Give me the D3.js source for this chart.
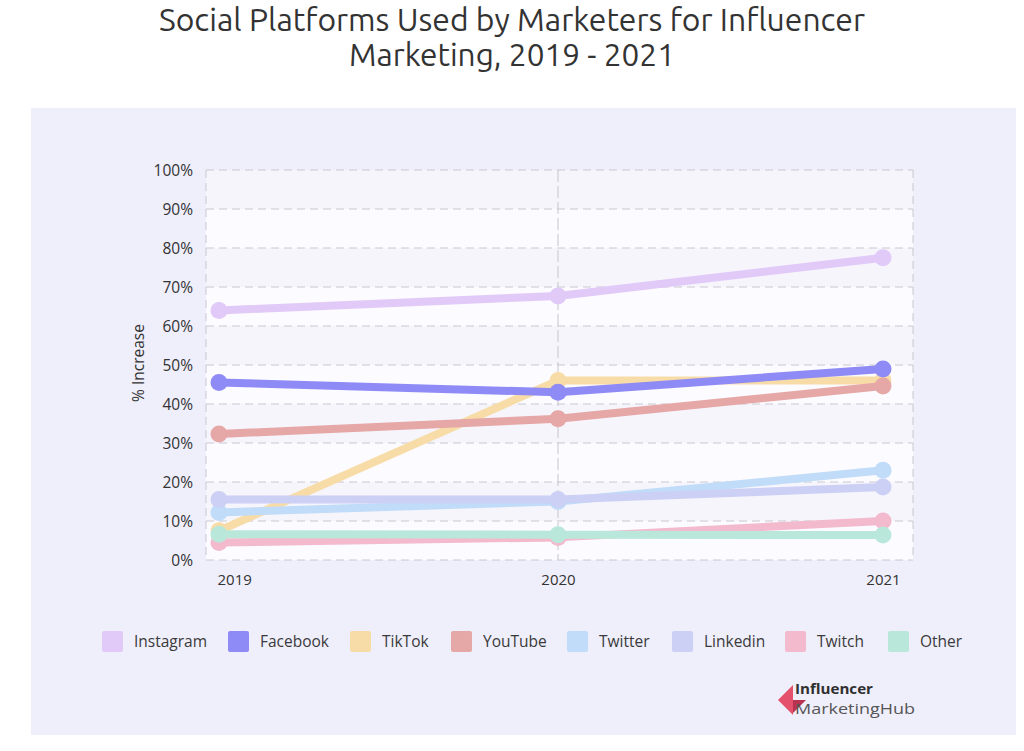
<!DOCTYPE html>
<html><head><meta charset="utf-8">
<script src="https://cdn.jsdelivr.net/npm/d3@7"></script>
<style>html,body{margin:0;padding:0;background:#fff;}svg{display:block;}</style>
</head><body>
<svg id="chart" width="1024" height="751"></svg>
<script>
const years = [2019, 2020, 2021];
const seriesNames = ["Instagram","Facebook","TikTok","YouTube","Twitter","Linkedin","Twitch","Other"];
const instagram = [64, 67.7, 77.5];
const facebook  = [45.5, 43, 49];
const tiktok    = [7.5, 46, 46];
const youtube   = [32.3, 36.2, 44.6];
const twitter   = [12.2, 15, 23];
const linkedin  = [15.5, 15.5, 18.7];
const twitch    = [4.5, 5.8, 10];
const other     = [6.6, 6.5, 6.4];
const colors = ["#e1c9f8","#8e8bf6","#f8dca7","#e6a7a7","#c0dcf8","#ccd0f5","#f3b9cc","#b9e8da"];
const yTicks = [0,10,20,30,40,50,60,70,80,90,100];
const tickLabels = yTicks.map(v => v + "%");
const titleLines = ["Social Platforms Used by Marketers for Influencer","Marketing, 2019 - 2021"];

const values = [instagram, facebook, tiktok, youtube, twitter, linkedin, twitch, other];
const series = seriesNames.map((n,i) => ({name:n, color:colors[i], vals:values[i]}));
const drawOrder = ["Instagram","TikTok","Facebook","YouTube","Twitter","Linkedin","Twitch","Other"];

const svg = d3.select("#chart");
const font = "'Open Sans', 'Noto Sans', sans-serif";

// panel
svg.append("rect").attr("x",31).attr("y",108).attr("width",985).attr("height",627).attr("fill","#efeefb");

// title
svg.selectAll("text.title").data(titleLines).enter().append("text")
  .attr("x",512).attr("text-anchor","middle")
  .attr("y",(d,i)=> i===0 ? 31 : 66)
  .attr("font-family","Ubuntu, 'Open Sans', sans-serif").attr("font-size",31)
  .attr("fill","#333")
  .attr("textLength",(d,i)=> i===0 ? 706 : 326).attr("lengthAdjust","spacingAndGlyphs")
  .text(d=>d);

const plotL = 206, plotR = 913, plotT = 170, plotB = 560;
const x = d3.scaleLinear().domain(years).range([219, 558, 883]);
const y = d3.scaleLinear().domain([0,100]).range([plotB, plotT]);

// bands
const bands = d3.range(0,100,10);
svg.selectAll("rect.band").data(bands).enter().append("rect")
  .attr("x",plotL).attr("width",plotR-plotL)
  .attr("y",d=>y(d+10)).attr("height",d=>y(d)-y(d+10))
  .attr("fill",(d,i)=> (i%2===0) ? "#fcfbff" : "#f6f5fc");

// horizontal grid
svg.selectAll("line.hgrid").data(yTicks).enter().append("line")
  .attr("x1",plotL).attr("x2",plotR).attr("y1",d=>y(d)).attr("y2",d=>y(d))
  .attr("stroke","#c9c8cf").attr("stroke-width",1).attr("stroke-dasharray","8,5");
// vertical borders + 2020
[plotL, plotR].forEach(xx => svg.append("line").attr("x1",xx).attr("x2",xx).attr("y1",plotT).attr("y2",plotB)
  .attr("stroke","#c9c8cf").attr("stroke-dasharray","8,5"));
svg.append("line").attr("x1",x(2020)).attr("x2",x(2020)).attr("y1",plotT).attr("y2",plotB)
  .attr("stroke","#c6c5cc").attr("stroke-dasharray","12,4");

// y axis labels
const yAxis = d3.axisLeft(y).tickValues(yTicks).tickFormat((d,i)=>tickLabels[i]).tickSize(0).tickPadding(0);
const ya = svg.append("g").attr("transform",`translate(193,0)`).call(yAxis);
ya.select(".domain").remove();
ya.selectAll("text").attr("font-family",font).attr("font-size",15.5).attr("fill","#333").attr("dy","0.35em");

// x axis labels
const xAxis = d3.axisBottom(x).tickValues(years).tickFormat(d3.format("d")).tickSize(0).tickPadding(0);
const xa = svg.append("g").attr("transform",`translate(0,574)`).call(xAxis);
xa.select(".domain").remove();
xa.selectAll("text").attr("font-family",font).attr("font-size",15).attr("fill","#333").attr("dy","0.71em")
  .attr("text-anchor",d=> d===2019 ? "start" : "middle")
  .attr("dx",d=> d===2019 ? -2 : 0);

// y title
svg.append("text").attr("transform","translate(144,363) rotate(-90)").attr("text-anchor","middle")
  .attr("font-family",font).attr("font-size",15.5).attr("fill","#333").text("% Increase");

// lines
const line = d3.line().x((d,i)=>x(years[i])).y(d=>y(d));
const ordered = drawOrder.map(n => series.find(s=>s.name===n));
const g = svg.append("g");
ordered.forEach(s => {
  g.append("path").datum(s.vals).attr("d",line).attr("fill","none")
    .attr("stroke",s.color).attr("stroke-width",8).attr("stroke-linejoin","round");
  g.selectAll(null).data(s.vals).enter().append("circle")
    .attr("cx",(d,i)=>x(years[i])).attr("cy",d=>y(d)).attr("r",8.5).attr("fill",s.color);
});

// legend
const legendX = [102, 228, 350, 451, 567, 672, 785, 888];
const lg = svg.selectAll("g.leg").data(series).enter().append("g")
  .attr("transform",(d,i)=>`translate(${legendX[i]},631)`);
lg.append("rect").attr("width",21).attr("height",21).attr("rx",2).attr("fill",d=>d.color);
lg.append("text").attr("x",32).attr("y",10.5).attr("dy","0.35em")
  .attr("font-family",font).attr("font-size",15.5).attr("fill","#3a3a3a").text(d=>d.name);

// logo
const logo = svg.append("g").attr("transform","translate(778,684)");
logo.append("path").attr("d","M0,16 L15,1 L15,31 Z").attr("fill","#e4516d");
logo.append("path").attr("d","M15,16 L28,16 L15,29 Z").attr("fill","#b8334f");
logo.append("text").attr("x",17).attr("y",10).attr("font-family",font).attr("font-weight",700)
  .attr("font-size",14).attr("fill","#2f2f2f")
  .attr("textLength",78).attr("lengthAdjust","spacingAndGlyphs").text("Influencer");
logo.append("text").attr("x",17).attr("y",30).attr("font-family",font)
  .attr("font-size",14).attr("fill","#555")
  .attr("textLength",120).attr("lengthAdjust","spacingAndGlyphs").text("MarketingHub");
</script>
</body></html>
